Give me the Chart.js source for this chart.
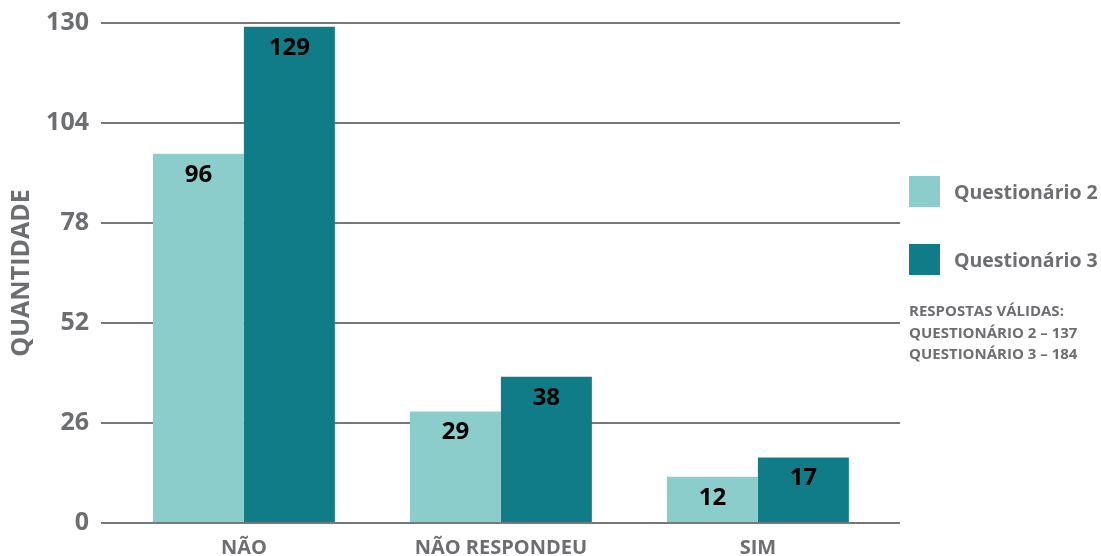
<!DOCTYPE html>
<html>
<head>
<meta charset="utf-8">
<script src="https://cdn.jsdelivr.net/npm/chart.js@4"></script>
<style>
  html, body { margin:0; padding:0; background:#fff; }
  #wrap { position:relative; width:1101px; height:556px; }
  #legend { position:absolute; left:909px; top:176px; font-family:"Open Sans",sans-serif; font-weight:700; color:#6d6e71; }
  .item { display:flex; align-items:center; height:31px; margin-bottom:37px; font-size:19.5px; }
  .box { width:31px; height:31px; margin-right:14px; }
  #notes { position:absolute; left:909px; top:300px; font-family:"Open Sans",sans-serif; font-weight:700; color:#6d6e71; font-size:15px; line-height:21.5px; }
</style>
</head>
<body>
<div id="wrap">
  <canvas id="chart1" width="1101" height="556"></canvas>
  <div id="legend"></div>
  <div id="notes">RESPOSTAS VÁLIDAS:<br>QUESTIONÁRIO 2 – 137<br>QUESTIONÁRIO 3 – 184</div>
</div>
<script>
// ----------------------------
// data
// ----------------------------
const categories = ["NÃO", "NÃO RESPONDEU", "SIM"];
const seriesNames = ["Questionário 2", "Questionário 3"];
const q2Values = [96, 29, 12];
const q3Values = [129, 38, 17];
const yTicks = [0, 26, 52, 78, 104, 130];

const gray = "#6d6e71";
const colors = ["#8bcdcb", "#107c87"];

function toPoints(vals) { return vals.map((v, i) => ({ x: i, y: v })); }

// value labels inside the top of each bar
const barLabels = {
  id: "barLabels",
  afterDatasetsDraw(chart) {
    const ctx = chart.ctx;
    ctx.save();
    ctx.font = "bold 24px 'Open Sans'";
    ctx.fillStyle = "#000";
    ctx.textAlign = "center";
    ctx.textBaseline = "middle";
    chart.data.datasets.forEach((d, di) => {
      chart.getDatasetMeta(di).data.forEach((bar, i) => {
        ctx.fillText(String(d.data[i].y), bar.x, bar.y + 21);
      });
    });
    ctx.restore();
  }
};

const ctx = document.getElementById("chart1").getContext("2d");
const chart = new Chart(ctx, {
  type: "bar",
  data: {
    datasets: [
      { label: seriesNames[0], data: toPoints(q2Values), backgroundColor: colors[0],
        categoryPercentage: 0.708, barPercentage: 1 },
      { label: seriesNames[1], data: toPoints(q3Values), backgroundColor: colors[1],
        categoryPercentage: 0.708, barPercentage: 1 }
    ]
  },
  options: {
    responsive: false,
    animation: false,
    layout: { padding: { left: 3, right: 201, top: 23, bottom: 0 } },
    plugins: { legend: { display: false }, tooltip: { enabled: false } },
    scales: {
      x: {
        type: "linear",
        offset: false,
        min: -0.556,
        max: 2.553,
        afterBuildTicks(axis) { axis.ticks = categories.map((c, i) => ({ value: i })); },
        afterFit(axis) { axis.height = 33; axis.paddingLeft = 0; axis.paddingRight = 0; },
        grid: { display: false, offset: false },
        border: { display: false },
        ticks: {
          autoSkip: false,
          maxRotation: 0,
          padding: 5,
          color: gray,
          font: { family: "Open Sans", weight: "bold", size: 20 },
          callback: v => categories[v]
        }
      },
      y: {
        min: 0,
        max: 130,
        afterBuildTicks(axis) { axis.ticks = yTicks.map(v => ({ value: v })); },
        afterFit(axis) { axis.width = 98; axis.paddingTop = 0; axis.paddingBottom = 0; },
        border: { display: false },
        grid: { color: "#77787b", lineWidth: 2, drawTicks: false },
        ticks: {
          padding: 12,
          color: gray,
          font: { family: "Open Sans", weight: "bold", size: 25 }
        },
        title: {
          display: true,
          text: "QUANTIDADE",
          color: gray,
          padding: { top: 4, bottom: 0 },
          font: { family: "Open Sans", weight: "bold", size: 25 }
        }
      }
    }
  },
  plugins: [barLabels]
});

// html legend built from the datasets
const legendDiv = document.getElementById("legend");
chart.data.datasets.forEach(d => {
  const item = document.createElement("div");
  item.className = "item";
  const box = document.createElement("span");
  box.className = "box";
  box.style.background = d.backgroundColor;
  item.appendChild(box);
  item.appendChild(document.createTextNode(d.label));
  legendDiv.appendChild(item);
});
</script>
</body>
</html>
